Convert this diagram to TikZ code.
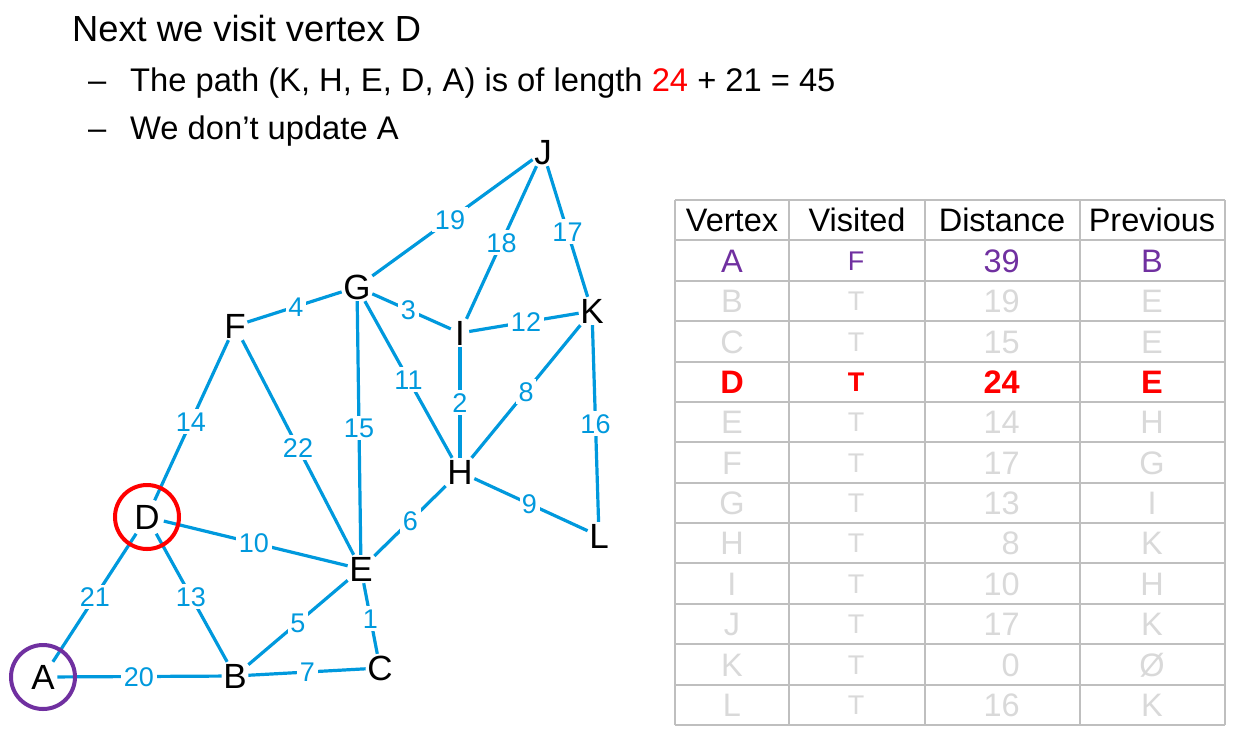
\documentclass[tikz,border=0pt]{standalone}
\usepackage{fontspec}
\setmainfont{Liberation Sans}
\usetikzlibrary{calc}
\definecolor{edgeblue}{RGB}{0,153,221}
\definecolor{vpurple}{RGB}{112,48,160}
\definecolor{faint}{RGB}{217,217,217}
\definecolor{gridgray}{RGB}{191,191,191}
\begin{document}
\begin{tikzpicture}[x=1pt,y=-1pt,
  vtx/.style={rectangle,inner sep=1.5pt,minimum width=18pt,font=\fontsize{35}{35}\selectfont,text height=25pt,text depth=0pt},
  elabel/.style={fill=white,inner sep=2.5pt,text=edgeblue,font=\fontsize{27}{27}\selectfont,text height=19.3pt,text depth=0pt},
  link/.style={draw=edgeblue,line width=3.2pt},
  ring/.style={circle,line width=4pt,minimum size=64pt,inner sep=0pt},
  gridline/.style={draw=gridgray,line width=2pt},
  titletext/.style={anchor=base west,inner sep=0pt,font=\fontsize{36.3}{40}\selectfont},
  subtext/.style={anchor=base west,inner sep=0pt,font=\fontsize{32.7}{36}\selectfont},
  cell/.style={inner sep=0pt,text height=23.3pt,text depth=0pt,font=\fontsize{32.5}{32.5}\selectfont},
  smallcell/.style={inner sep=0pt,text height=19.3pt,text depth=0pt,font=\fontsize{27}{27}\selectfont},
  plainrow/.style={text=faint},
  firstrow/.style={text=vpurple},
  hotrow/.style={text=red,font=\fontsize{32.5}{32.5}\selectfont\bfseries},
  hotsmall/.style={text=red,font=\fontsize{27}{27}\selectfont\bfseries},
]
\useasboundingbox (0,0) rectangle (1249,737);

% heading
\node[titletext] (title) at (72,41) {Next we visit vertex D};
\node[subtext] (dash1) at (88,91) {–};
\node[subtext] (line1) at (130,91) {The path (K, H, E, D, A) is of length \textcolor{red}{24} + 21 = 45};
\node[subtext] (dash2) at (88,139) {–};
\node[subtext] (line2) at (130,139) {We don’t update A};

% vertices
\node[vtx] (J) at (543,152) {J};
\node[vtx] (G) at (357,287) {G};
\node[vtx] (F) at (235,326) {F};
\node[vtx] (I) at (460,333) {I};
\node[vtx] (K) at (592,311) {K};
\node[vtx] (H) at (460,472) {H};
\node[vtx,inner sep=4pt] (D) at (147,517) {D};
\node[vtx] (L) at (599,536) {L};
\node[vtx] (E) at (361,569) {E};
\node[vtx,inner sep=2.5pt] (A) at (43,677) {A};
\node[vtx] (B) at (235,676) {B};
\node[vtx] (C) at (380,668) {C};

% edges
\foreach \a/\b/\w in {A/D/21,A/B/20,D/F/14,D/E/10,D/B/13,B/E/5,B/C/7,E/C/1,F/G/4,F/E/22,G/E/15,G/J/19,G/I/3,G/H/11,I/J/18,I/K/12,I/H/2,J/K/17,K/H/8,K/L/16,H/L/9,H/E/6}{
  \draw[link] (\a) -- (\b);
}
\foreach \a/\b/\w in {A/D/21,A/B/20,D/F/14,D/E/10,D/B/13,B/E/5,B/C/7,E/C/1,F/G/4,F/E/22,G/E/15,G/J/19,G/I/3,G/H/11,I/J/18,I/K/12,I/H/2,J/K/17,K/H/8,K/L/16,H/L/9,H/E/6}{
  \node[elabel] (w\a\b) at ($(\a.center)!0.5!(\b.center)$) {\w};
}

% rings
\node[ring,draw=red] (ringD) at (D.center) {};
\node[ring,draw=vpurple] (ringA) at (A.center) {};

% table grid
\foreach \i in {0,...,13}{
  \draw[gridline] (675,{200+40.385*\i}) -- (1225,{200+40.385*\i});
}
\foreach \x in {675,789,925,1080,1225}{
  \draw[gridline] (\x,200) -- (\x,725);
}

% header
\node[cell] (hV) at (732,220.2) {Vertex};
\node[cell] (hS) at (857,220.2) {Visited};
\node[cell] (hD) at (1002,220.2) {Distance};
\node[cell] (hP) at (1152,220.2) {Previous};

% rows
\foreach \v/\s/\d/\p/\st/\sst [count=\k] in {
  A/F/39/B/firstrow/firstrow,
  B/T/19/E/plainrow/plainrow,
  C/T/15/E/plainrow/plainrow,
  D/T/24/E/hotrow/hotsmall,
  E/T/14/H/plainrow/plainrow,
  F/T/17/G/plainrow/plainrow,
  G/T/13/I/plainrow/plainrow,
  H/T/8/K/plainrow/plainrow,
  I/T/10/H/plainrow/plainrow,
  J/T/17/K/plainrow/plainrow,
  K/T/0/Ø/plainrow/plainrow,
  L/T/16/K/plainrow/plainrow}{
  \pgfmathsetmacro{\yc}{200+40.385*(\k+0.5)}
  \node[cell,\st] (cv\k) at (732,\yc) {\v};
  \node[smallcell,\sst] (cs\k) at (856,\yc) {\s};
  \node[cell,\st,anchor=east] (cd\k) at (1020,\yc) {\d};
  \node[cell,\st] (cp\k) at (1152,\yc) {\p};
}
\end{tikzpicture}
\end{document}
